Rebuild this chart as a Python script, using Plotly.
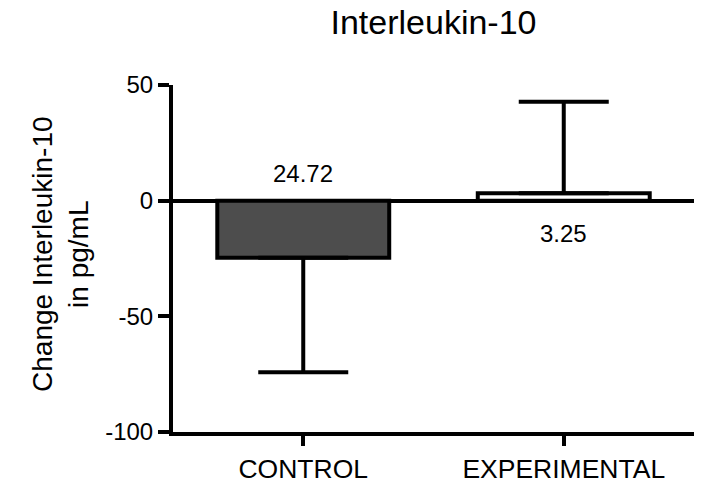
import plotly.graph_objects as go

# Change in IL-10 by group (pg/mL)
groups = ["CONTROL", "EXPERIMENTAL"]
mean_change = [-24.72, 3.25]
err_up = [0.0, 39.5]
err_down = [49.4, 0.0]
bar_colors = ["#4d4d4d", "#ffffff"]
y_ticks = [-100, -50, 0, 50]
y_tick_text = ["-100", "-50", "0", "50"]

FONT = "Liberation Sans, Arial, Helvetica, sans-serif"

fig = go.Figure()
fig.add_trace(go.Bar(
    x=groups,
    y=mean_change,
    width=0.66,
    marker=dict(color=bar_colors, line=dict(color="black", width=4)),
    error_y=dict(
        type="data", symmetric=False,
        array=err_up, arrayminus=err_down,
        color="black", thickness=4, width=45,
    ),
    showlegend=False,
    hoverinfo="skip",
))

# value labels: above zero for negative bars, below zero for positive bars
for g, v in zip(groups, mean_change):
    fig.add_annotation(
        x=g, y=0, xref="x", yref="y",
        text=f"{abs(v):.2f}",
        showarrow=False,
        yanchor="middle",
        yshift=27 if v < 0 else -33,
        font=dict(family=FONT, size=24, color="black"),
    )

# two-line y-axis title
fig.add_annotation(
    xref="paper", yref="paper",
    x=(61 - 173) / 521, y=0.513,
    text="Change Interleukin-10<br>in pg/mL",
    textangle=-90,
    showarrow=False,
    xanchor="center", yanchor="middle",
    font=dict(family=FONT, size=28, color="black"),
)

fig.update_layout(
    width=705, height=487,
    margin=dict(l=173, r=11, t=85, b=55, autoexpand=False),
    paper_bgcolor="white",
    plot_bgcolor="white",
    title=dict(
        text="Interleukin-10",
        x=0.5, xref="paper", xanchor="center",
        y=1 - 22 / 487, yref="container", yanchor="middle",
        font=dict(family=FONT, size=34, color="black"),
    ),
    xaxis=dict(
        range=[-0.5, 1.5],
        automargin=False,
        showline=True, linecolor="black", linewidth=4,
        ticks="outside", ticklen=10, tickwidth=4, tickcolor="black",
        tickfont=dict(family=FONT, size=26.5, color="black"),
        ticklabelstandoff=0,
        showgrid=False, zeroline=False,
    ),
    yaxis=dict(
        range=[-100, 50],
        automargin=False,
        tickvals=y_ticks, ticktext=y_tick_text,
        showline=True, linecolor="black", linewidth=4,
        ticks="outside", ticklen=11, tickwidth=4, tickcolor="black",
        tickfont=dict(family=FONT, size=24, color="black"),
        ticklabelstandoff=0,
        showgrid=False,
        zeroline=True, zerolinecolor="black", zerolinewidth=4,
    ),
)

fig.write_html("out.html")
